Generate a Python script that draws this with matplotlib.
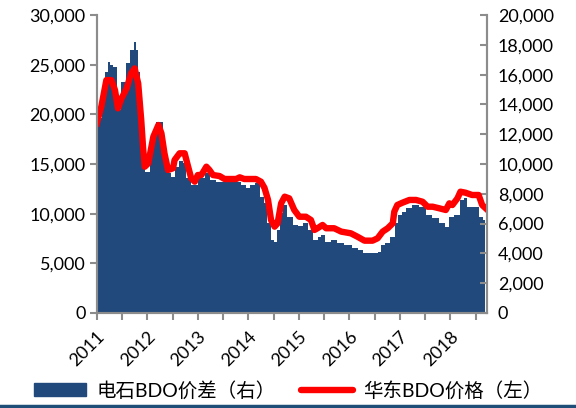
import matplotlib
matplotlib.use("Agg")
import matplotlib.pyplot as plt
from matplotlib.patches import Patch
from matplotlib.lines import Line2D
from matplotlib.ticker import FuncFormatter

plt.rcParams['font.family'] = ['Lato', 'Noto Sans CJK SC', 'DejaVu Sans']

# 华东BDO价格 (左轴), 时间为小数年
t_price = [2011.00, 2011.09, 2011.19, 2011.29, 2011.36, 2011.42, 2011.49, 2011.59, 2011.68, 2011.75,
           2011.82, 2011.88, 2011.92, 2011.95, 2012.02, 2012.12, 2012.22, 2012.28, 2012.34, 2012.41,
           2012.51, 2012.54, 2012.64, 2012.74, 2012.80, 2012.87, 2012.94, 2013.00, 2013.07, 2013.17,
           2013.23, 2013.30, 2013.43, 2013.53, 2013.76, 2013.83, 2013.92, 2014.15, 2014.25, 2014.32,
           2014.39, 2014.45, 2014.52, 2014.58, 2014.65, 2014.72, 2014.81, 2014.91, 2015.01, 2015.14,
           2015.24, 2015.31, 2015.37, 2015.47, 2015.54, 2015.70, 2015.84, 2016.03, 2016.16, 2016.30,
           2016.46, 2016.56, 2016.66, 2016.76, 2016.86, 2016.89, 2016.95, 2017.05, 2017.19, 2017.32,
           2017.45, 2017.55, 2017.65, 2017.78, 2017.91, 2017.98, 2018.04, 2018.14, 2018.20, 2018.30,
           2018.43, 2018.56, 2018.63, 2018.70]
price = [19100, 20770, 23450, 23450, 22450, 20600, 21600, 22600, 24130, 24630,
         23120, 19430, 16400, 14730, 15070, 17750, 18930, 18090, 16080, 14400,
         14570, 15400, 16080, 16080, 14900, 13560, 13220, 13890, 13890, 14730,
         14400, 13890, 13790, 13490, 13490, 13660, 13490, 13490, 13220, 12600,
         11400, 9360, 8690, 9030, 11040, 11710, 11540, 10370, 9690, 9690,
         9360, 8360, 8530, 8860, 8530, 8530, 8190, 8020, 7680, 7280,
         7280, 7520, 8190, 8530, 9030, 10200, 10870, 11100, 11380, 11380,
         11200, 10700, 10700, 10540, 10370, 11040, 10870, 11540, 12210, 12110,
         11880, 11880, 10870, 10540]

# 电石BDO价差 (右轴)
t_spread = [2011.00, 2011.06, 2011.13, 2011.19, 2011.24, 2011.30, 2011.36, 2011.44, 2011.53, 2011.62,
            2011.70, 2011.76, 2011.80, 2011.85, 2011.88, 2011.92, 2011.98, 2012.12, 2012.22, 2012.28,
            2012.34, 2012.43, 2012.51, 2012.57, 2012.67, 2012.74, 2012.81, 2012.94, 2013.07, 2013.20,
            2013.30, 2013.43, 2013.63, 2013.80, 2013.92, 2014.00, 2014.08, 2014.18, 2014.27, 2014.35,
            2014.41, 2014.47, 2014.55, 2014.60, 2014.67, 2014.72, 2014.82, 2014.93, 2015.03, 2015.13,
            2015.22, 2015.34, 2015.40, 2015.47, 2015.57, 2015.70, 2015.83, 2015.96, 2016.16, 2016.20,
            2016.33, 2016.52, 2016.60, 2016.66, 2016.76, 2016.86, 2016.93, 2016.99, 2017.08, 2017.18,
            2017.32, 2017.45, 2017.58, 2017.71, 2017.84, 2017.94, 2018.00, 2018.14, 2018.24, 2018.30,
            2018.37, 2018.53, 2018.60, 2018.68]
spread = [12390, 13060, 15190, 16190, 16860, 16640, 16530, 13620, 15520, 16760,
          17650, 18200, 17650, 16190, 14070, 10490, 9480, 11610, 12840, 12840,
          10940, 9370, 9150, 9820, 10200, 10050, 9040, 8590, 9040, 9370,
          8920, 8810, 8810, 8810, 8590, 8370, 8590, 8700, 7800, 7360,
          6020, 4900, 4780, 5570, 6690, 7250, 6460, 5900, 5840, 6020,
          5570, 4900, 5120, 5230, 4780, 4900, 4680, 4560, 4340, 4230,
          4010, 4010, 4110, 4560, 4680, 5120, 6020, 6580, 6800, 7030,
          7250, 7130, 6580, 6350, 6020, 5790, 6460, 6580, 7580, 7700,
          7130, 7130, 6460, 6240]

years = [2011, 2012, 2013, 2014, 2015, 2016, 2017, 2018]

blue = '#21497B'
red = '#FF0000'
grey = '#8C8C8C'

fig = plt.figure(figsize=(5.76, 4.08), dpi=100)
ax1 = fig.add_axes([0.168, 0.233, 0.677, 0.730])  # 价差, 右轴
ax2 = ax1.twinx()  # 价格, 左轴 (画在上层)

ax1.fill_between(t_spread, spread, 0, color=blue, lw=0, step='mid')
ax2.plot(t_price, price, color=red, lw=4.6, solid_joinstyle='round')

ax1.set_xlim(2011, 2018.72)
ax1.set_ylim(0, 20000)
ax2.set_ylim(0, 30000)

ax1.yaxis.tick_right()
ax2.yaxis.tick_left()
ax1.set_yticks(range(0, 20001, 2000))
ax2.set_yticks(range(0, 30001, 5000))
fmt = FuncFormatter(lambda v, p: f'{int(v):,}')
ax1.yaxis.set_major_formatter(fmt)
ax2.yaxis.set_major_formatter(fmt)

ticks = [y + h for y in years for h in (0, 0.5)]
ax1.set_xticks(ticks)
ax1.set_xticklabels([str(int(x)) if x == int(x) else '' for x in ticks],
                    rotation=45, ha='right', rotation_mode='anchor')

for a in (ax1, ax2):
    for s in a.spines.values():
        s.set_color(grey)
        s.set_linewidth(1.5)
    a.spines['top'].set_visible(False)

ax1.tick_params(axis='y', direction='in', length=5, color=grey, width=1.5, labelsize=13, pad=8)
ax2.tick_params(axis='y', direction='out', length=5, color=grey, width=1.5, labelsize=13, pad=3)
ax1.tick_params(axis='x', direction='out', length=5, color=grey, width=1.5, labelsize=13, pad=6)

handles = [Patch(color=blue), Line2D([0], [0], color=red, lw=4.6, solid_capstyle='round')]
labels = ['电石BDO价差（右）', '华东BDO价格（左）']
fig.legend(handles, labels, loc='lower center', bbox_to_anchor=(0.5, -0.022), ncol=2,
           frameon=False, fontsize=14, handlelength=2.7, columnspacing=1.3, handletextpad=0.5)

fig.add_artist(Line2D([0, 1], [0.004, 0.004], color='#1F4E79', lw=2.5))

fig.savefig('out.png', dpi=100)
